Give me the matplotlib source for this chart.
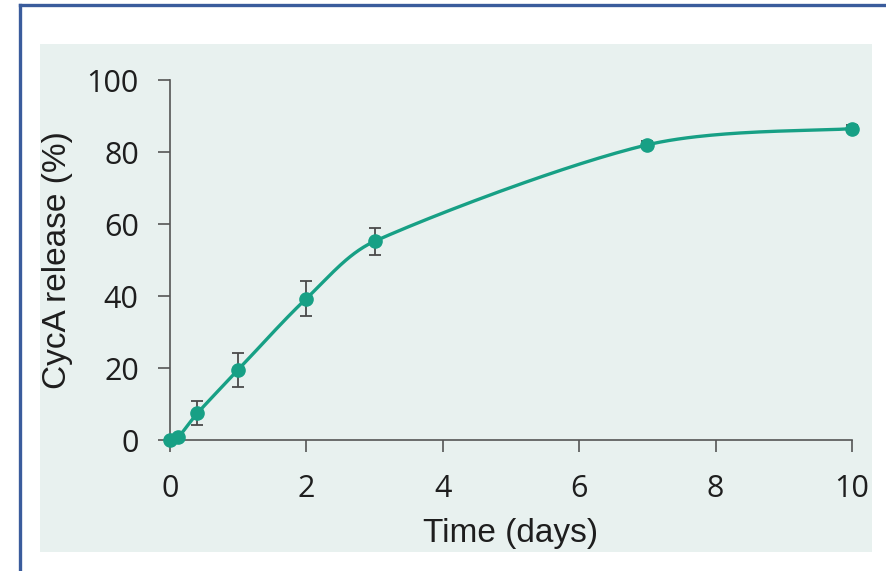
import numpy as np
import matplotlib.pyplot as plt
from matplotlib.patches import Rectangle
from matplotlib.lines import Line2D

# data
days = [0, 0.12, 0.4, 1, 2, 3, 7, 10]
release = [0, 0.8, 7.4, 19.5, 39.3, 55.2, 82.0, 86.5]
err = [0, 0, 3.3, 4.7, 4.9, 3.7, 1.0, 1.0]
xticks = [0, 2, 4, 6, 8, 10]
yticks = [0, 20, 40, 60, 80, 100]

teal = '#17a085'
grey = '#555555'


def smooth(x, y, n=50):
    # Excel-like smoothed line: Catmull-Rom bezier in pixel-ish space,
    # control handles capped to a third of the segment so nothing loops back
    px = np.array(x) / 10.0 * 682
    py = np.array(y) / 100.0 * 360
    P = np.column_stack([px, py])
    P = np.vstack([P[0], P, P[-1]])
    out = []
    for i in range(1, len(P) - 2):
        p0, p1, p2, p3 = P[i - 1], P[i], P[i + 1], P[i + 2]
        L = np.hypot(*(p2 - p1))
        a = (p2 - p0) / 6.0
        b = (p3 - p1) / 6.0
        la, lb = np.hypot(*a), np.hypot(*b)
        if la > L / 3:
            a = a * (L / 3) / la
        if lb > L / 3:
            b = b * (L / 3) / lb
        c1 = p1 + a
        c2 = p2 - b
        t = np.linspace(0, 1, n)[:, None]
        seg = (1 - t) ** 3 * p1 + 3 * (1 - t) ** 2 * t * c1 + 3 * (1 - t) * t ** 2 * c2 + t ** 3 * p2
        out.append(seg)
    out = np.vstack(out)
    return out[:, 0] / 682 * 10.0, out[:, 1] / 360 * 100.0


fig = plt.figure(figsize=(8.87, 5.71), dpi=100)
fig.patch.set_facecolor('white')

# light panel behind chart
fig.patches.append(Rectangle((40 / 887, 1 - 552 / 571), 832 / 887, 508 / 571,
                             transform=fig.transFigure, facecolor='#e8f1ef',
                             edgecolor='none', zorder=-5))
# blue frame
fig.lines.append(Line2D([20 / 887, 20 / 887], [0, 1 - 5 / 571], transform=fig.transFigure,
                        color='#3a5c9c', lw=2.4, zorder=-4))
fig.lines.append(Line2D([20 / 887, 1], [1 - 5 / 571, 1 - 5 / 571], transform=fig.transFigure,
                        color='#3a5c9c', lw=2.4, zorder=-4))

ax = fig.add_axes([170 / 887, 1 - 440 / 571, 682 / 887, 360 / 571])
ax.set_facecolor('none')
ax.set_zorder(2)

sx, sy = smooth(days, release)
ax.plot(sx, sy, color=teal, lw=2.4, clip_on=False, zorder=3)
ax.errorbar(days, release, yerr=err, fmt='none', ecolor='#4a4a4a', elinewidth=1.3,
            capsize=4.5, capthick=1.3, clip_on=False, zorder=2)
ax.plot(days, release, 'o', color=teal, ms=9.5, clip_on=False, zorder=4)

ax.set_xlim(0, 10)
ax.set_ylim(0, 100)
ax.set_xticks(xticks)
ax.set_yticks(yticks)

for s in ['top', 'right']:
    ax.spines[s].set_visible(False)
for s in ['left', 'bottom']:
    ax.spines[s].set_color(grey)
    ax.spines[s].set_linewidth(1.2)

ax.tick_params(axis='both', colors=grey, length=8.5, width=1.2, labelcolor='#1e1e1e',
               labelsize=22)
ax.tick_params(axis='y', pad=14)
ax.tick_params(axis='x', pad=16)
for lab in ax.get_xticklabels() + ax.get_yticklabels():
    lab.set_fontfamily('Open Sans')

ax.set_xlabel('Time (days)', fontsize=24, family='Liberation Sans', color='#1e1e1e', labelpad=10)
ax.set_ylabel('CycA release (%)', fontsize=24, family='Liberation Sans', color='#1e1e1e', labelpad=10)

fig.savefig('out.png', dpi=100)
